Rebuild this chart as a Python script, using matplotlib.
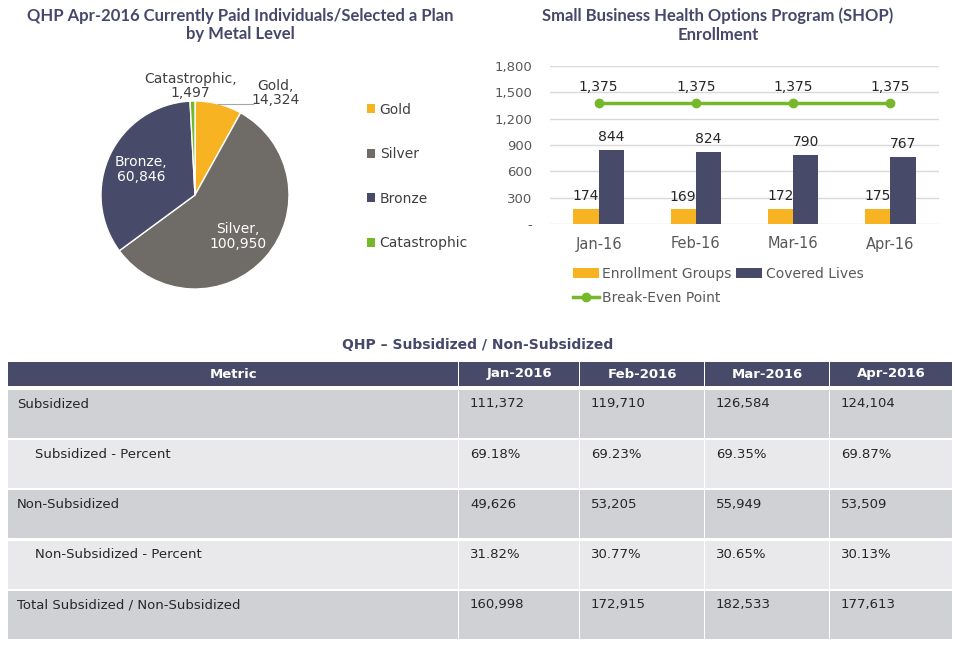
import numpy as np
import matplotlib
matplotlib.use('Agg')
import matplotlib.pyplot as plt
from matplotlib.patches import Rectangle, Patch

# pie data
metal_levels = ['Gold', 'Silver', 'Bronze', 'Catastrophic']
metal_counts = [14324, 100950, 60846, 1497]
metal_colors = ['#f8b323', '#6f6c67', '#474a69', '#76b82a']

# SHOP data
months = ['Jan-16', 'Feb-16', 'Mar-16', 'Apr-16']
enrollment_groups = [174, 169, 172, 175]
covered_lives = [844, 824, 790, 767]
break_even = [1375, 1375, 1375, 1375]

# table data
table_title = 'QHP \u2013 Subsidized / Non-Subsidized'
table_columns = ['Metric', 'Jan-2016', 'Feb-2016', 'Mar-2016', 'Apr-2016']
table_metrics = ['Subsidized', 'Subsidized - Percent', 'Non-Subsidized',
                 'Non-Subsidized - Percent', 'Total Subsidized / Non-Subsidized']
table_values = [
    ['111,372', '119,710', '126,584', '124,104'],
    ['69.18%', '69.23%', '69.35%', '69.87%'],
    ['49,626', '53,205', '55,949', '53,509'],
    ['31.82%', '30.77%', '30.65%', '30.13%'],
    ['160,998', '172,915', '182,533', '177,613'],
]
indented = [False, True, False, True, False]

TITLE_COLOR = '#45486a'
GRAY_TXT = '#595959'
W, H = 955, 645

plt.rcParams['font.family'] = ['DejaVu Sans']
fig = plt.figure(figsize=(W / 100, H / 100), dpi=100)


def px_axes(left, top, width, height):
    return fig.add_axes([left / W, 1 - (top + height) / H, width / W, height / H])


# ---------- pie ----------
cx, cy, r = 195, 195, 94
ax_pie = px_axes(cx - r, cy - r, 2 * r, 2 * r)
ax_pie.pie(metal_counts, colors=metal_colors, startangle=90, counterclock=False,
           wedgeprops=dict(edgecolor='white', linewidth=1))
ax_pie.set_xlim(-1, 1)
ax_pie.set_ylim(-1, 1)
ax_pie.set_aspect('equal')

label_pos = [(0.86, 1.085), (0.46, -0.44), (-0.57, 0.27), (-0.05, 1.16)]
label_col = ['#404040', 'white', 'white', '#404040']
for name, val, pos, col in zip(metal_levels, metal_counts, label_pos, label_col):
    ax_pie.text(pos[0], pos[1], f'{name},\n{val:,}', ha='center', va='center',
                fontsize=10, color=col, linespacing=1.05, clip_on=False)
ax_pie.plot([0.245, 0.62], [0.968, 0.968], color='#a6a6a6', lw=0.8, clip_on=False)

fig.text(240 / W, 1 - 25 / H, 'QHP Apr-2016 Currently Paid Individuals/Selected a Plan\nby Metal Level',
         ha='center', va='center', fontsize=12, fontweight='bold', color=TITLE_COLOR,
         family=['Lato', 'DejaVu Sans'], linespacing=1.22)

pie_handles = [Patch(facecolor=c, edgecolor='none') for c in metal_colors]
leg = fig.legend(pie_handles, metal_levels, loc='upper left',
                 bbox_to_anchor=(354 / W, 1 - 90 / H), frameon=False, fontsize=10,
                 handlelength=0.6, handleheight=0.6, handletextpad=0.35, labelspacing=2.2)
for t in leg.get_texts():
    t.set_color('#404040')

# ---------- SHOP bars ----------
ax_bar = px_axes(550, 66, 389, 158)
x = np.arange(len(months))
w = 0.26
b1 = ax_bar.bar(x - w / 2, enrollment_groups, w, color='#f8b323', zorder=2)
b2 = ax_bar.bar(x + w / 2, covered_lives, w, color='#474a69', zorder=2)
ln, = ax_bar.plot(x, break_even, color='#76b82a', lw=2.5, marker='o', ms=6, zorder=3)
ax_bar.set_xlim(-0.5, len(months) - 0.5)
ax_bar.set_ylim(0, 1800)
yt = np.arange(0, 1801, 300)
ax_bar.set_yticks(yt)
ax_bar.set_yticklabels(['-' if v == 0 else f'{v:,}' for v in yt])
ax_bar.set_xticks(x)
ax_bar.set_xticklabels(months)
ax_bar.tick_params(axis='y', length=0, pad=13, labelsize=9.5, labelcolor=GRAY_TXT)
ax_bar.tick_params(axis='x', length=0, pad=9, labelsize=10.5, labelcolor=GRAY_TXT)
ax_bar.grid(axis='y', color='#d9d9d9', lw=1, zorder=0)
for s in ax_bar.spines.values():
    s.set_visible(False)

for xi, v in zip(x, enrollment_groups):
    ax_bar.annotate(f'{v:,}', (xi - w / 2, v), xytext=(0, 4), textcoords='offset points',
                    ha='center', va='bottom', fontsize=10, color='#262626')
for xi, v in zip(x, covered_lives):
    ax_bar.annotate(f'{v:,}', (xi + w / 2, v), xytext=(0, 4), textcoords='offset points',
                    ha='center', va='bottom', fontsize=10, color='#262626')
for xi, v in zip(x, break_even):
    ax_bar.annotate(f'{v:,}', (xi, v), xytext=(0, 7), textcoords='offset points',
                    ha='center', va='bottom', fontsize=10, color='#262626')

fig.text(718 / W, 1 - 25 / H, 'Small Business Health Options Program (SHOP)\nEnrollment',
         ha='center', va='center', fontsize=12, fontweight='bold', color=TITLE_COLOR,
         family=['Lato', 'DejaVu Sans'], linespacing=1.22)

bar_handles = [b1, ln, b2]
bar_labels = ['Enrollment Groups', 'Break-Even Point', 'Covered Lives']
leg2 = fig.legend(bar_handles, bar_labels, loc='upper left', ncol=2,
                  bbox_to_anchor=(560 / W, 1 - 254 / H), frameon=False, fontsize=10,
                  handlelength=1.9, handletextpad=0.25, columnspacing=0.3,
                  labelspacing=0.75)
for t in leg2.get_texts():
    t.set_color(GRAY_TXT)

# ---------- table ----------
ax_t = fig.add_axes([0, 0, 1, 1], zorder=-1)
ax_t.set_xlim(0, W)
ax_t.set_ylim(H, 0)
ax_t.axis('off')

ax_t.text(478, 345, table_title, ha='center', va='center', fontsize=10,
          fontweight='bold', color=TITLE_COLOR)

col_edges = [8, 459, 580, 705, 830, 953]
head_top, head_h = 362, 24
row_top0, row_step, row_h = 390, 50.2, 48
row_colors = ['#d0d1d5', '#e9e9eb']

for j, name in enumerate(table_columns):
    x0, x1 = col_edges[j], col_edges[j + 1]
    ax_t.add_patch(Rectangle((x0, head_top), x1 - x0 - 1.5, head_h, facecolor='#474a69',
                             edgecolor='none'))
    ax_t.text((x0 + x1) / 2, head_top + head_h / 2, name, ha='center', va='center',
              fontsize=9.5, fontweight='bold', color='white')

for i, (metric, vals) in enumerate(zip(table_metrics, table_values)):
    top = row_top0 + i * row_step
    fc = row_colors[i % 2]
    cells = [metric] + vals
    for j, txt in enumerate(cells):
        x0, x1 = col_edges[j], col_edges[j + 1]
        ax_t.add_patch(Rectangle((x0, top), x1 - x0 - 1.5, row_h, facecolor=fc,
                                 edgecolor='none'))
        pad = 27 if (j == 0 and indented[i]) else (9 if j == 0 else 11)
        ax_t.text(x0 + pad, top + 14, txt, ha='left', va='center', fontsize=9.5,
                  color='#262626')

fig.savefig('out.png', dpi=100)
